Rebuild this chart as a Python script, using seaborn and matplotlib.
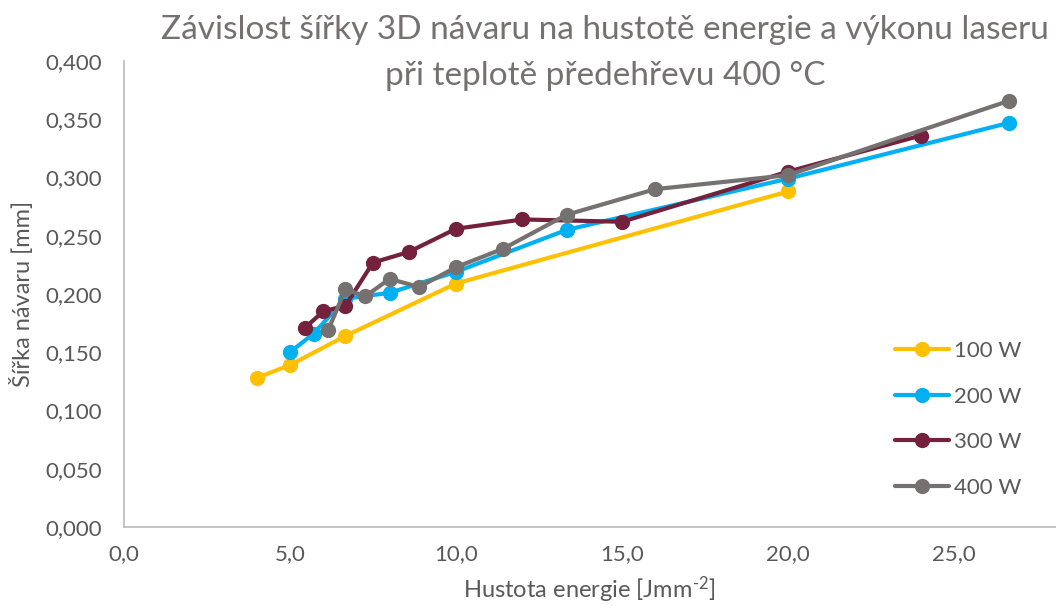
import pandas as pd
import matplotlib.pyplot as plt
import seaborn as sns
from matplotlib.ticker import FuncFormatter, MultipleLocator

# Hustota energie [J/mm2] a sirka navaru [mm] pro jednotlive vykony
x_100 = [4.0, 5.0, 6.67, 10.0, 20.0]
y_100 = [0.128, 0.139, 0.164, 0.209, 0.288]
x_200 = [5.0, 5.71, 6.67, 8.0, 10.0, 13.33, 20.0, 26.67]
y_200 = [0.150, 0.166, 0.196, 0.201, 0.219, 0.255, 0.299, 0.347]
x_300 = [5.45, 6.0, 6.67, 7.5, 8.57, 10.0, 12.0, 15.0, 20.0, 24.0]
y_300 = [0.171, 0.185, 0.190, 0.227, 0.236, 0.256, 0.264, 0.262, 0.305, 0.336]
x_400 = [6.15, 6.67, 7.27, 8.0, 8.89, 10.0, 11.43, 13.33, 16.0, 20.0, 26.67]
y_400 = [0.169, 0.204, 0.198, 0.213, 0.206, 0.223, 0.239, 0.268, 0.290, 0.302, 0.366]
vykony = ['100 W', '200 W', '300 W', '400 W']

cores = {'100 W': '#FFC000', '200 W': '#00B0F0', '300 W': '#73213D', '400 W': '#767171'}

df = pd.concat([
    pd.DataFrame({'x': xs, 'y': ys, 'Vykon': v})
    for xs, ys, v in zip([x_100, x_200, x_300, x_400], [y_100, y_200, y_300, y_400], vykony)
])

sns.set_theme(style="white")
plt.rcParams['font.family'] = ['Lato', 'DejaVu Sans']
plt.rcParams['mathtext.fontset'] = 'custom'
plt.rcParams['mathtext.rm'] = 'Lato'
plt.rcParams['mathtext.it'] = 'Lato:italic'
text_col = '#595959'

fig = plt.figure(figsize=(10.64, 6.12), dpi=100)
ax = fig.add_axes([124/1064, 1-527/612, (1055-124)/1064, (527-61)/612])

sns.lineplot(data=df, x='x', y='y', hue='Vykon', palette=cores, hue_order=vykony,
             estimator=None, sort=False, marker='o', markersize=11, markeredgewidth=0,
             linewidth=3, ax=ax)

ax.set_xlim(0, (1055-124)/33.2)
ax.set_ylim(0, 0.4)
ax.xaxis.set_major_locator(MultipleLocator(5))
ax.yaxis.set_major_locator(MultipleLocator(0.05))
ax.xaxis.set_major_formatter(FuncFormatter(lambda v, p: f'{v:.1f}'.replace('.', ',')))
ax.yaxis.set_major_formatter(FuncFormatter(lambda v, p: f'{v:.3f}'.replace('.', ',')))
ax.tick_params(axis='y', length=0, labelsize=16, labelcolor=text_col, pad=16)
ax.tick_params(axis='x', length=0, labelsize=16, labelcolor=text_col, pad=12)

for s in ['top', 'right']:
    ax.spines[s].set_visible(False)
for s in ['left', 'bottom']:
    ax.spines[s].set_color('#BFBFBF')
    ax.spines[s].set_linewidth(1.3)

ax.set_xlabel('Hustota energie [Jmm$^{\\text{-2}}$]', fontsize=17, color=text_col, labelpad=8)
ax.set_ylabel('Šířka návaru [mm]', fontsize=17, color=text_col, labelpad=8)

fig.suptitle('Závislost šířky 3D návaru na hustotě energie a výkonu laseru\npři teplotě předehřevu 400 °C',
             x=605/1064, y=0.975, fontsize=24, color='#757171', linespacing=1.65)

leg = ax.legend(loc='lower right', bbox_to_anchor=(0.985, 0.02), frameon=False, fontsize=16,
                labelspacing=1.15, handlelength=2.45, handletextpad=0.2, labelcolor=text_col)

plt.savefig('out.png', dpi=100)
plt.close()
